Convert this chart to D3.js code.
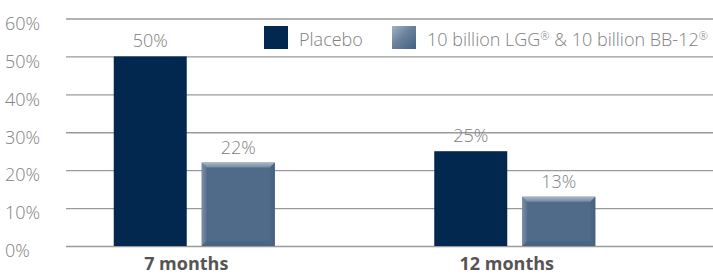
<!DOCTYPE html>
<html><head><meta charset="utf-8">
<script src="https://cdn.jsdelivr.net/npm/d3@7"></script>
<style>
body{margin:0;background:#fff;}
svg{display:block;}
text{font-family:"Open Sans",sans-serif;}
</style></head>
<body>
<svg id="c" width="713" height="275"></svg>
<script>
const categories = ["7 months", "12 months"];
const seriesNames = ["Placebo", "10 billion LGG® & 10 billion BB-12®"];
const placebo = [50, 25];
const treatment = [22, 13];
const yTicks = [0, 10, 20, 30, 40, 50, 60];

const svg = d3.select("#c");
const gridLeft = 66, gridRight = 713;
const y = d3.scaleLinear().domain([0, 60]).range([246, 18.5]);
const x0 = d3.scaleBand().domain(categories).range([34, 675]).padding(0);
const x1 = d3.scaleBand().domain([0, 1]).paddingInner(0.1705).paddingOuter(0);

const colors = ["#03284f", "#506a89"];
const textGrey = "#808080";

const defs = svg.append("defs");
const gTop = defs.append("linearGradient").attr("id","bevTop").attr("x1",0).attr("y1",0).attr("x2",0).attr("y2",1);
gTop.append("stop").attr("offset","0%").attr("stop-color","#a9b7c8");
gTop.append("stop").attr("offset","100%").attr("stop-color","#7389a3");
const gLeft = defs.append("linearGradient").attr("id","bevLeft").attr("x1",0).attr("y1",0).attr("x2",1).attr("y2",0);
gLeft.append("stop").attr("offset","0%").attr("stop-color","#7a8fa8");
gLeft.append("stop").attr("offset","100%").attr("stop-color","#58718f");
const gRight = defs.append("linearGradient").attr("id","bevRight").attr("x1",0).attr("y1",0).attr("x2",1).attr("y2",0);
gRight.append("stop").attr("offset","0%").attr("stop-color","#4d6787");
gRight.append("stop").attr("offset","100%").attr("stop-color","#46607f");
const gLeg = defs.append("linearGradient").attr("id","legGrad").attr("x1",0).attr("y1",0).attr("x2",1).attr("y2",1);
gLeg.append("stop").attr("offset","0%").attr("stop-color","#a3b3c6");
gLeg.append("stop").attr("offset","45%").attr("stop-color","#6a819c");
gLeg.append("stop").attr("offset","100%").attr("stop-color","#43607f");

// grid + y labels
const yAxis = d3.axisLeft(y).tickValues(yTicks).tickSize(-(gridRight - gridLeft)).tickFormat(d => d + "%");
const ga = svg.append("g").attr("transform", `translate(${gridLeft},0)`).call(yAxis);
ga.select(".domain").remove();
ga.selectAll(".tick line").attr("stroke", "#9a9a9a").attr("stroke-width", 1.3);
ga.selectAll(".tick text")
  .attr("x", 5 - gridLeft).attr("dy", "0.6em").attr("text-anchor", "start")
  .attr("fill", textGrey).attr("font-size", 18).attr("font-weight", 300)
  .style("font-family", '"Open Sans",sans-serif');

// bars
const data = categories.map((c, i) => ({c, vals: [placebo[i], treatment[i]]}));
x1.range([0, 161]);
const groups = svg.append("g").selectAll("g").data(data).join("g")
  .attr("transform", d => `translate(${x0(d.c) + x0.bandwidth()/2 - 80.5},0)`);
groups.each(function(d) {
  const g = d3.select(this);
  d.vals.forEach((v, s) => {
    const bx = x1(s), bw = x1.bandwidth(), by = y(v), bh = y(0) - y(v);
    g.append("rect").attr("x", bx).attr("y", by).attr("width", bw).attr("height", bh).attr("fill", colors[s]);
    if (s === 1) {
      const e = 5;
      g.append("path").attr("d", `M${bx},${by}L${bx+e},${by+e}L${bx+e},${by+bh-e}L${bx},${by+bh}Z`).attr("fill","url(#bevLeft)");
      g.append("path").attr("d", `M${bx+bw},${by}L${bx+bw-e},${by+e}L${bx+bw-e},${by+bh-e}L${bx+bw},${by+bh}Z`).attr("fill","url(#bevRight)");
      g.append("path").attr("d", `M${bx},${by+bh}L${bx+e},${by+bh-e}L${bx+bw-e},${by+bh-e}L${bx+bw},${by+bh}Z`).attr("fill","#4a6484");
      g.append("path").attr("d", `M${bx},${by}L${bx+bw},${by}L${bx+bw-e},${by+e}L${bx+e},${by+e}Z`).attr("fill","url(#bevTop)");
    }
    g.append("text").attr("x", bx + bw/2).attr("y", by - 9).attr("text-anchor","middle")
      .attr("fill", textGrey).attr("font-size",18).attr("font-weight",300).text(v + "%");
  });
});

// x labels
svg.append("g").selectAll("text").data(categories).join("text")
  .attr("x", d => x0(d) + x0.bandwidth()/2 - 8).attr("y", 270)
  .attr("text-anchor","middle").attr("fill","#555").attr("font-size",18).attr("font-weight",700)
  .text(d => d);

// legend
const leg = svg.append("g");
const legX = [264, 392];
seriesNames.forEach((n, i) => {
  leg.append("rect").attr("x", legX[i]).attr("y", 26).attr("width", 24).attr("height", 23)
    .attr("fill", i === 0 ? colors[0] : "url(#legGrad)");
  const t = leg.append("text").attr("x", legX[i] + 35).attr("y", 46).attr("fill", textGrey)
    .attr("font-size",18).attr("font-weight",300);
  let pending = 0;
  n.split(/(®)/).filter(p => p.length).forEach(p => {
    if (p === "®") {
      t.append("tspan").attr("font-size", 11).attr("dy", pending - 6).text(p);
      pending = 6;
    } else {
      const ts = t.append("tspan").text(p);
      if (pending) ts.attr("dy", pending);
      pending = 0;
    }
  });
  if (i === 1) {
    const len = t.node().getComputedTextLength();
    if (len > 285) t.attr("textLength", 285).attr("lengthAdjust", "spacingAndGlyphs");
  }
});
</script>
</body></html>
